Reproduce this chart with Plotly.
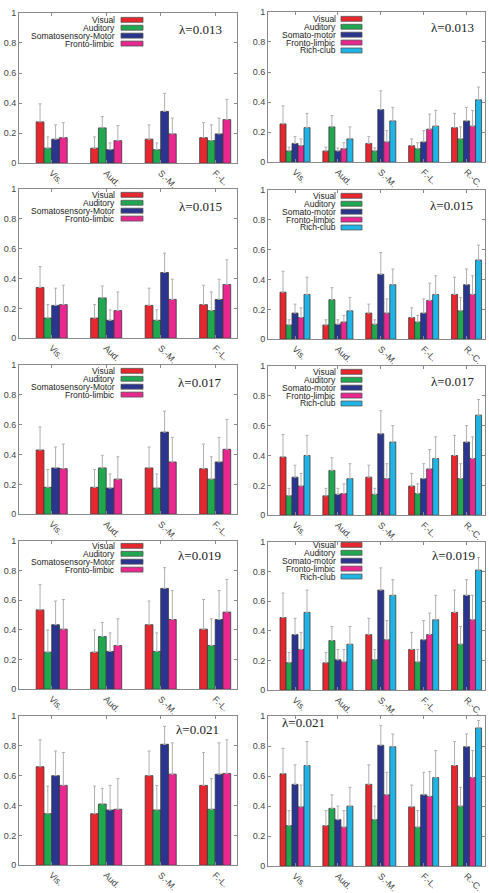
import plotly.graph_objects as go

W, H = 489, 893

cats_left = ["Vis.", "Aud.", "S.-M.", "F.-L."]
cats_right = ["Vis.", "Aud.", "S.-M.", "F.-L.", "R.-C."]
series_left = ["Visual", "Auditory", "Somatosensory-Motor", "Fronto-limbic"]
series_right = ["Visual", "Auditory", "Somato-motor", "Fronto-limbic", "Rich-club"]
colors = ["#e8262e", "#1fa84f", "#2a3590", "#e8288f", "#1fb4e6"]
lambdas = ["0.013", "0.015", "0.017", "0.019", "0.021"]

# rows = category groups, columns = series (bar order inside a group)
mean_L013 = [[0.275, 0.10, 0.16, 0.17], [0.10, 0.235, 0.09, 0.15],
             [0.16, 0.09, 0.345, 0.195], [0.17, 0.15, 0.195, 0.29]]
upper_L013 = [[0.395, 0.175, 0.255, 0.27], [0.175, 0.31, 0.135, 0.25],
              [0.255, 0.135, 0.465, 0.30], [0.27, 0.255, 0.30, 0.425]]
mean_R013 = [[0.255, 0.075, 0.125, 0.11, 0.23], [0.075, 0.235, 0.075, 0.09, 0.155],
             [0.125, 0.075, 0.35, 0.135, 0.275], [0.11, 0.09, 0.135, 0.22, 0.24],
             [0.23, 0.155, 0.275, 0.24, 0.415]]
upper_R013 = [[0.375, 0.10, 0.17, 0.155, 0.325], [0.10, 0.31, 0.095, 0.13, 0.235],
              [0.17, 0.095, 0.475, 0.21, 0.365], [0.155, 0.13, 0.21, 0.32, 0.345],
              [0.325, 0.235, 0.365, 0.345, 0.50]]

mean_L015 = [[0.34, 0.135, 0.22, 0.225], [0.135, 0.27, 0.12, 0.185],
             [0.22, 0.12, 0.44, 0.26], [0.225, 0.185, 0.26, 0.36]]
upper_L015 = [[0.48, 0.225, 0.335, 0.355], [0.225, 0.35, 0.19, 0.31],
              [0.335, 0.19, 0.57, 0.395], [0.355, 0.31, 0.395, 0.525]]
mean_R015 = [[0.315, 0.095, 0.175, 0.145, 0.30], [0.095, 0.265, 0.10, 0.115, 0.19],
             [0.175, 0.10, 0.435, 0.175, 0.365], [0.145, 0.115, 0.175, 0.26, 0.30],
             [0.30, 0.19, 0.365, 0.30, 0.53]]
upper_R015 = [[0.455, 0.13, 0.235, 0.21, 0.415], [0.13, 0.345, 0.13, 0.16, 0.28],
              [0.235, 0.13, 0.58, 0.27, 0.47], [0.21, 0.16, 0.27, 0.375, 0.425],
              [0.415, 0.28, 0.47, 0.425, 0.63]]

mean_L017 = [[0.43, 0.18, 0.31, 0.305], [0.18, 0.31, 0.175, 0.235],
             [0.31, 0.175, 0.55, 0.35], [0.305, 0.235, 0.35, 0.435]]
upper_L017 = [[0.585, 0.30, 0.45, 0.47], [0.30, 0.395, 0.27, 0.385],
              [0.45, 0.27, 0.69, 0.515], [0.47, 0.385, 0.515, 0.635]]
mean_R017 = [[0.39, 0.13, 0.255, 0.195, 0.40], [0.13, 0.30, 0.14, 0.145, 0.245],
             [0.255, 0.14, 0.545, 0.245, 0.49], [0.195, 0.145, 0.245, 0.31, 0.38],
             [0.40, 0.245, 0.49, 0.38, 0.67]]
upper_R017 = [[0.54, 0.18, 0.335, 0.28, 0.535], [0.18, 0.385, 0.18, 0.21, 0.345],
              [0.335, 0.18, 0.70, 0.345, 0.60], [0.28, 0.21, 0.345, 0.44, 0.525],
              [0.535, 0.345, 0.60, 0.525, 0.775]]

mean_L019 = [[0.535, 0.25, 0.435, 0.405], [0.25, 0.355, 0.255, 0.295],
             [0.435, 0.255, 0.68, 0.47], [0.405, 0.295, 0.47, 0.52]]
upper_L019 = [[0.705, 0.40, 0.595, 0.605], [0.40, 0.45, 0.38, 0.475],
              [0.595, 0.38, 0.82, 0.665], [0.605, 0.475, 0.665, 0.74]]
mean_R019 = [[0.49, 0.185, 0.375, 0.275, 0.525], [0.185, 0.335, 0.205, 0.19, 0.31],
             [0.375, 0.205, 0.675, 0.34, 0.64], [0.275, 0.19, 0.34, 0.375, 0.475],
             [0.525, 0.31, 0.64, 0.475, 0.81]]
upper_R019 = [[0.655, 0.255, 0.485, 0.39, 0.675], [0.255, 0.43, 0.275, 0.275, 0.43],
              [0.485, 0.275, 0.825, 0.47, 0.745], [0.39, 0.275, 0.47, 0.52, 0.64],
              [0.675, 0.43, 0.745, 0.64, 0.895]]

mean_L021 = [[0.66, 0.345, 0.60, 0.535], [0.345, 0.41, 0.37, 0.375],
             [0.60, 0.37, 0.81, 0.61], [0.535, 0.375, 0.61, 0.615]]
upper_L021 = [[0.84, 0.53, 0.765, 0.755], [0.53, 0.515, 0.535, 0.58],
              [0.765, 0.535, 0.93, 0.82], [0.755, 0.58, 0.82, 0.84]]
mean_R021 = [[0.615, 0.27, 0.545, 0.395, 0.67], [0.27, 0.385, 0.31, 0.26, 0.40],
             [0.545, 0.31, 0.805, 0.475, 0.795], [0.395, 0.26, 0.475, 0.465, 0.59],
             [0.67, 0.40, 0.795, 0.59, 0.92]]
upper_R021 = [[0.785, 0.37, 0.675, 0.54, 0.83], [0.37, 0.475, 0.40, 0.37, 0.525],
              [0.675, 0.40, 0.935, 0.625, 0.88], [0.54, 0.37, 0.625, 0.63, 0.77],
              [0.83, 0.525, 0.88, 0.77, 0.97]]

ytick_vals = [0, 0.2, 0.4, 0.6, 0.8, 1]
ytick_text = ["0", "0.2", "0.4", "0.6", "0.8", "1"]

# ---- layout geometry (pixels) ----
rows_px = {  # (top, bottom) for left, right panels
    0: ((8, 160), (7, 159)),
    1: ((186, 337), (187, 338)),
    2: ((364, 515), (365, 516)),
    3: ((542, 692), (543, 693)),
    4: ((719, 870), (719, 871)),
}
xdom = {"L": (19, 237), "R": (268, 485)}
lam_pos = {  # (right x px, center offset from panel top)
    ("L", 0): (224, 17), ("L", 1): (224, 18), ("L", 2): (223, 18), ("L", 3): (223, 15), ("L", 4): (221, 14),
    ("R", 0): (476, 16), ("R", 1): (475, 16), ("R", 2): (476, 16), ("R", 3): (477, 14), ("R", 4): (327, 7),
}
leg_off = {("L", 0): 7, ("L", 1): 6, ("L", 2): 6, ("L", 3): 5,
           ("R", 0): 7, ("R", 1): 6, ("R", 2): 6, ("R", 3): 3}
leg_x = {"L": (117, 121, 143), "R": (338, 341, 362)}

panels = [
    ("L", 0, mean_L013, upper_L013), ("R", 0, mean_R013, upper_R013),
    ("L", 1, mean_L015, upper_L015), ("R", 1, mean_R015, upper_R015),
    ("L", 2, mean_L017, upper_L017), ("R", 2, mean_R017, upper_R017),
    ("L", 3, mean_L019, upper_L019), ("R", 3, mean_R019, upper_R019),
    ("L", 4, mean_L021, upper_L021), ("R", 4, mean_R021, upper_R021),
]

def px_x(p):
    return p / W

def px_y(p):
    return 1 - p / H

fig = go.Figure()
layout = dict(width=W, height=H, margin=dict(l=0, r=0, t=0, b=0),
              paper_bgcolor="white", plot_bgcolor="white", showlegend=False,
              barmode="overlay", font=dict(family="Liberation Sans, Arial, sans-serif", color="#333"))
annotations = []
shapes = []
axcol = "#8a8a8a"

for k, (side, row, mean, upper) in enumerate(panels):
    idx = k + 1
    xa = "x" if idx == 1 else f"x{idx}"
    ya = "y" if idx == 1 else f"y{idx}"
    cats = cats_left if side == "L" else cats_right
    names = series_left if side == "L" else series_right
    n = len(names)
    top, bot = rows_px[row][0 if side == "L" else 1]
    if side == "L":
        bw, start, xr = 0.1425, -0.285, [-0.6, 3.4]
    else:
        bw, start, xr = 0.14, -0.35, [-0.63, 4.43]
    for i in range(n):
        vals = [g[i] for g in mean]
        ups = [g[i] for g in upper]
        fig.add_trace(go.Bar(
            x=cats, y=vals, name=names[i], xaxis=xa, yaxis=ya,
            width=bw, offset=start + i * bw,
            marker=dict(color=colors[i], line=dict(color="#3a3a3a", width=0.8)),
            error_y=dict(type="data", symmetric=False,
                         array=[u - v for u, v in zip(ups, vals)],
                         arrayminus=[0] * len(vals),
                         color="#b0b0b0", thickness=1, width=1.5),
        ))
    xkey = "xaxis" if idx == 1 else f"xaxis{idx}"
    ykey = "yaxis" if idx == 1 else f"yaxis{idx}"
    layout[xkey] = dict(domain=[px_x(xdom[side][0]), px_x(xdom[side][1])], anchor=ya,
                        type="category", range=xr, tickangle=45, ticks="inside", ticklen=3,
                        showline=True, mirror="ticks", linecolor=axcol, tickcolor=axcol, linewidth=1,
                        showgrid=False, zeroline=False,
                        tickfont=dict(size=9, color="#444"))
    layout[ykey] = dict(domain=[px_y(bot), px_y(top)], anchor=xa, range=[0, 1],
                        tickvals=ytick_vals, ticktext=ytick_text, ticks="inside", ticklen=3,
                        showline=True, mirror="ticks", linecolor=axcol, tickcolor=axcol, linewidth=1,
                        showgrid=False, zeroline=False,
                        tickfont=dict(size=9, color="#444"))
    # lambda label
    lx, loff = lam_pos[(side, row)]
    annotations.append(dict(text=f"λ={lambdas[row]}", x=px_x(lx), y=px_y(top + loff),
                            xref="paper", yref="paper", xanchor="right", yanchor="middle",
                            showarrow=False,
                            font=dict(family="Liberation Serif, Times New Roman, serif", size=13, color="#222")))
    # legend (text right-aligned, swatch on the right)
    if (side, row) in leg_off:
        tx, s0, s1 = leg_x[side]
        for i in range(n):
            yc = top + leg_off[(side, row)] + i * 8
            annotations.append(dict(text=names[i], x=px_x(tx), y=px_y(yc), xref="paper", yref="paper",
                                    xanchor="right", yanchor="middle", showarrow=False,
                                    font=dict(size=8.5, color="#222")))
            shapes.append(dict(type="rect", xref="paper", yref="paper",
                               x0=px_x(s0), x1=px_x(s1), y0=px_y(yc + 2.5), y1=px_y(yc - 2.5),
                               fillcolor=colors[i], line=dict(color="#555", width=0.8)))

layout["annotations"] = annotations
layout["shapes"] = shapes
fig.update_layout(**layout)
fig.write_html("out.html", config={"displayModeBar": False},
               post_script="document.body.style.margin='0';document.body.style.overflow='hidden';")
